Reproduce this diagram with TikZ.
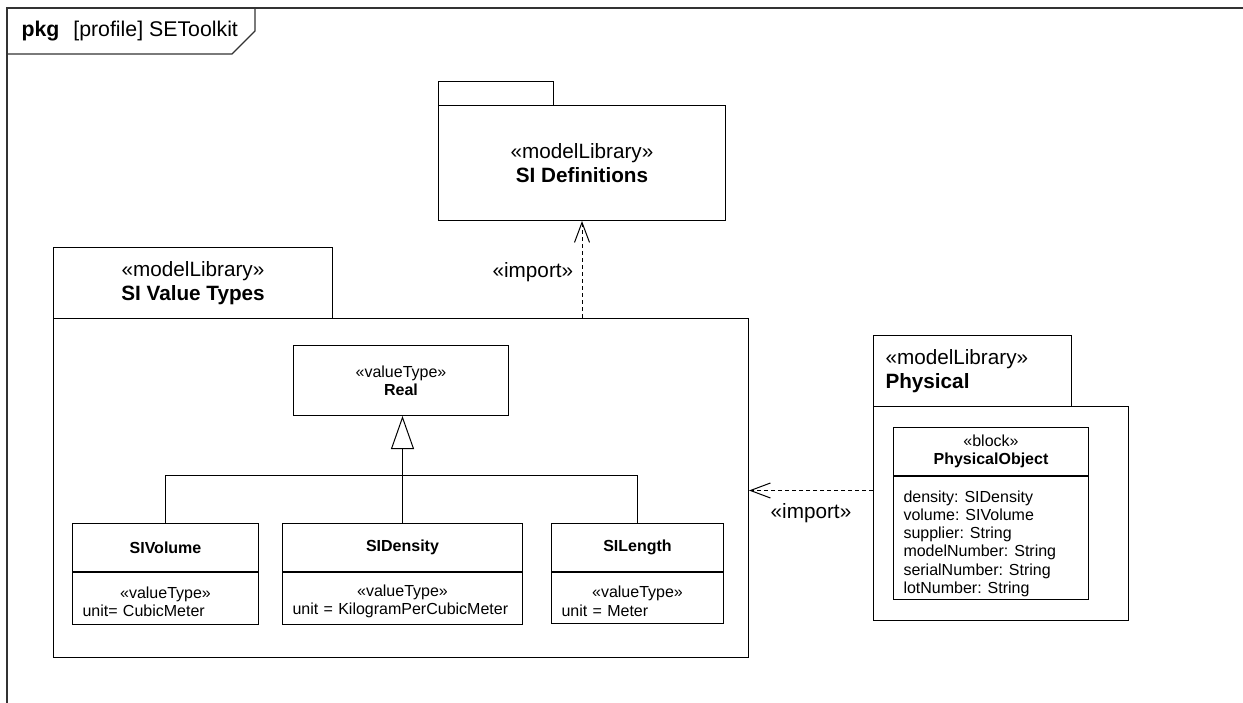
\documentclass[tikz,border=0pt]{standalone}
\usepackage{fontspec}
\setmainfont{Liberation Sans}
\usetikzlibrary{arrows.meta,positioning,calc}

\begin{document}
\begin{tikzpicture}[
  x=1pt,y=-1pt,line width=1pt,
  big/.style={font=\fontsize{20.7}{24}\selectfont},
  sm/.style={font=\fontsize{16}{18.3}\selectfont},
  pk/.style={draw,rectangle,anchor=north west,inner sep=0pt},
  ar/.style={dash pattern=on 4pt off 3pt,-{Straight Barb[length=20pt,width=15pt]}},
  gen/.style={-{Triangle[open,length=33pt,width=23pt]}}
]
\useasboundingbox (0,0) rectangle (1243,703);
% frame
\draw[line width=1.3pt,black!80] (7,703) -- (7,8) -- (1243,8);
\draw[line width=1.3pt,black!80] (7,54) -- (232,54) -- (255,31) -- (255,8);
\node[font=\fontsize{21.3}{24}\selectfont,anchor=west,inner sep=0pt] (hdr) at (21,31) {\textbf{pkg}\hspace{14pt}[profile] SEToolkit};
% SI Definitions
\node[pk,minimum width=115pt,minimum height=24pt] (defTab) at (438,81) {};
\node[pk,big,align=center,minimum width=287pt,minimum height=115pt] (defs) at (438,105) {«modelLibrary»\\\textbf{SI Definitions}};
% SI Value Types
\node[pk,big,align=center,minimum width=279pt,minimum height=71pt] (vtTab) at (53,247) {«modelLibrary»\\\textbf{SI Value Types}};
\node[pk,minimum width=695pt,minimum height=339pt] (vt) at (53,318) {};
\node[pk,sm,align=center,minimum width=215pt,minimum height=70pt] (real) at (293,345) {«valueType»\\\textbf{Real}};
\node[pk,sm,minimum width=186pt,minimum height=48pt] (vol) at (72,523) {\textbf{SIVolume}};
\node[pk,sm,minimum width=186pt,minimum height=52pt,text width=166pt,align=left] (volU) at (vol.south west) {\makebox[\linewidth]{\rule{0pt}{18pt}«valueType»}\\unit= CubicMeter};
\node[pk,sm,minimum width=240pt,minimum height=48pt] (den) at (282,523) {\textbf{SIDensity}};
\node[pk,sm,minimum width=240pt,minimum height=52pt,text width=220pt,align=left] (denU) at (den.south west) {\makebox[\linewidth]{\rule{0pt}{18pt}«valueType»}\\unit = KilogramPerCubicMeter};
\node[pk,sm,minimum width=172pt,minimum height=48pt] (len) at (551,523) {\textbf{SILength}};
\node[pk,sm,minimum width=172pt,minimum height=51pt,text width=152pt,align=left] (lenU) at (len.south west) {\makebox[\linewidth]{\rule{0pt}{18pt}«valueType»}\\unit = Meter};
% Physical
\node[pk,big,align=left,minimum width=198pt,minimum height=71pt,text width=174pt] (phTab) at (873,335) {«modelLibrary»\\\textbf{Physical}};
\node[pk,minimum width=255pt,minimum height=214pt] (ph) at (873,406) {};
\node[pk,sm,align=center,minimum width=195pt,minimum height=48pt] (po) at (893,427) {«block»\\\textbf{PhysicalObject}};
\node[pk,minimum width=195pt,minimum height=123pt] (poAttr) at (po.south west) {};
\node[sm,anchor=north west,inner sep=0pt,align=left] (poList) at ([xshift=10pt,yshift=-14pt]poAttr.north west)
  {density: SIDensity\\volume: SIVolume\\supplier: String\\modelNumber: String\\serialNumber: String\\lotNumber: String};
% generalization
\coordinate (bar) at (0,475);
\draw[gen] (den.north) -- (den.north |- real.south);
\draw (vol.north) |- (len.north |- bar) -- (len.north);
% imports
\draw[ar] (defs.south |- vt.north) -- node[big,left=5pt,pos=0.47] {«import»} (defs.south);
\coordinate[yshift=23pt] (phIn) at (ph.west);
\draw[ar] (phIn) -- node[big,below=9pt] {«import»} (phIn -| vt.east);
\end{tikzpicture}
\end{document}
